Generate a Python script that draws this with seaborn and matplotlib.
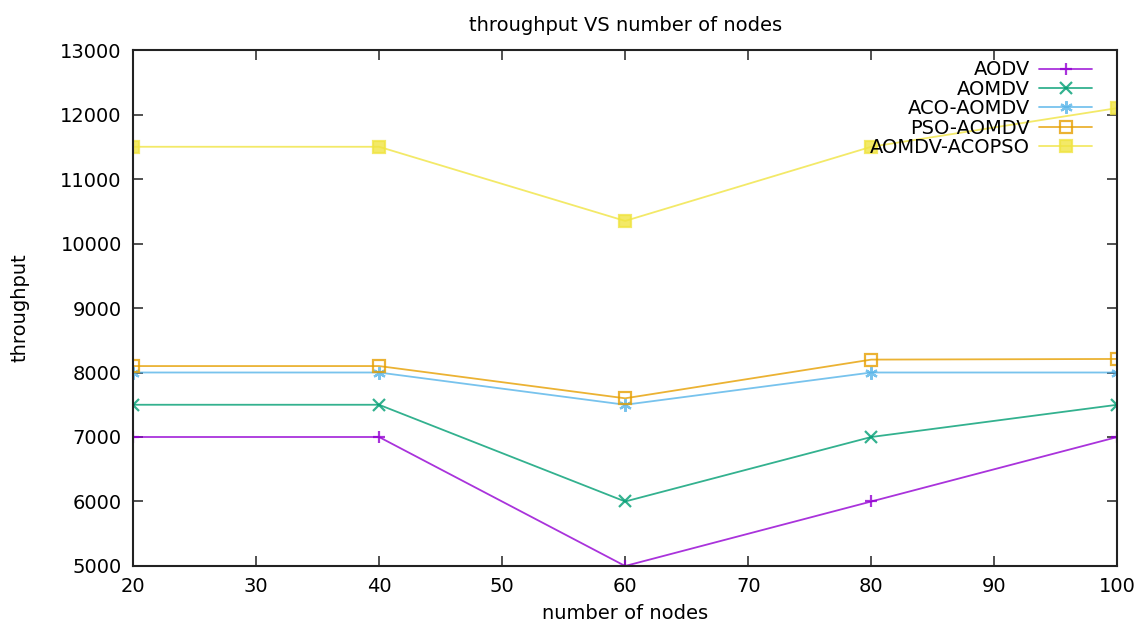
import matplotlib
matplotlib.use("Agg")
import matplotlib.pyplot as plt
import seaborn as sns

# Data
nodes = [20, 40, 60, 80, 100]
aodv = [7000, 7000, 5000, 6000, 7000]
aomdv = [7500, 7500, 6000, 7000, 7500]
aco_aomdv = [8000, 8000, 7500, 8000, 8000]
pso_aomdv = [8100, 8100, 7600, 8200, 8210]
aomdv_acopso = [11500, 11500, 10350, 11500, 12100]

series_names = ["AODV", "AOMDV", "ACO-AOMDV", "PSO-AOMDV", "AOMDV-ACOPSO"]
series_values = [aodv, aomdv, aco_aomdv, pso_aomdv, aomdv_acopso]

colors = ["#9400d3", "#009e73", "#56b4e9", "#e69f00", "#f0e442"]
markers = ["+", "x", (6, 2, 0), "s", "s"]
facecolors = [None, None, None, "none", None]

sns.set_style("ticks")
plt.rcParams["font.family"] = ["DejaVu Sans"]
plt.rcParams["text.color"] = "black"
plt.rcParams["axes.labelcolor"] = "black"

fig = plt.figure(figsize=(11.46, 6.30), dpi=100)
ax = fig.add_axes([0.116, 0.1016, 0.859, 0.819])

for name, vals, c, m, fc in zip(series_names, series_values, colors, markers, facecolors):
    kw = dict(color=c, marker=m, markersize=9, linewidth=1.3, alpha=0.8,
              markeredgewidth=1.6, markeredgecolor=c, label=name)
    kw["markerfacecolor"] = fc if fc is not None else c
    sns.lineplot(x=nodes, y=vals, ax=ax, **kw)

ax.set_xlim(20, 100)
ax.set_ylim(5000, 13000)
ax.set_xticks(range(20, 101, 10))
ax.set_yticks(range(5000, 13001, 1000))
ax.tick_params(direction="in", top=True, right=True, length=7, width=1.2,
               labelsize=14, colors="#333333", labelcolor="black", pad=8)
for s in ax.spines.values():
    s.set_visible(True)
    s.set_linewidth(1.5)
    s.set_color("#222222")

ax.set_title("throughput VS number of nodes", fontsize=14, pad=14)
ax.set_xlabel("number of nodes", fontsize=14, labelpad=6)
ax.set_ylabel("throughput", fontsize=14, labelpad=22)

leg = ax.legend(loc="upper right", frameon=False, markerfirst=False, fontsize=14,
                handlelength=2.7, handletextpad=0.5, labelspacing=0.02,
                borderaxespad=0.4, bbox_to_anchor=(0.99, 1.01))
for t in leg.get_texts():
    t.set_ha("right")

fig.savefig("out.png", dpi=100)
